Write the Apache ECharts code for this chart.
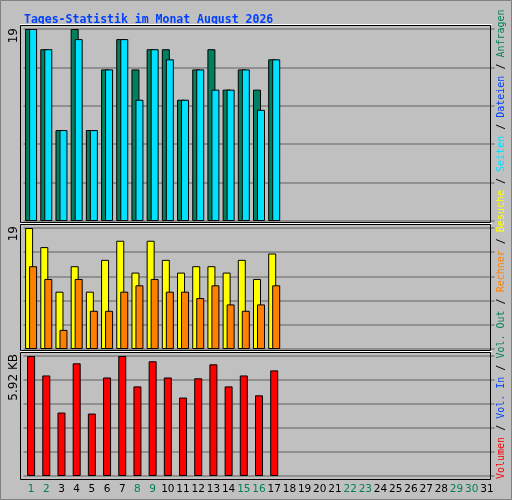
<!DOCTYPE html>
<html><head><meta charset="utf-8">
<script src="https://cdn.jsdelivr.net/npm/echarts@6/dist/echarts.min.js"></script>
<style>html,body{margin:0;padding:0;background:#c0c0c0}#c{width:512px;height:500px}</style>
</head><body><div id="c"></div>
<script>
const days = Array.from({length:31},(_,i)=>String(i+1));
const weekend = [1,2,8,9,15,16,22,23,29,30];
const hits   = [19,17,9,19,9,15,18,15,17,17,12,15,17,13,15,13,16];
const files  = [19,17,9,18,9,15,18,12,17,16,12,15,13,13,15,11,16];
const visits = [19,16,9,13,9,14,17,12,17,14,12,13,13,12,14,11,15];
const sites  = [13,11,3,11,6,6,9,10,11,9,9,8,10,7,6,7,10];
const kbytes = [5.92,4.96,3.13,5.56,3.08,4.86,5.92,4.42,5.66,4.86,3.87,4.82,5.51,4.42,4.96,3.98,5.21];
const maxTop = 19, maxMid = 19, maxKB = 5.92;
const axisLabels = ['19','19','5.92 KB'];

const chart = echarts.init(document.getElementById('c'));
const grids = [{top:29,bottom:279},{top:228,bottom:151},{top:356,bottom:24}];
const panels = [[25,222],[224,350],[352,479]];
const mono = 'DejaVu Sans Mono';
const xAxes = grids.map((g,i)=>({type:'category',gridIndex:i,data:days,
  axisLine:{show:false},axisTick:{show:false},
  axisLabel:{show:i===2,interval:0,margin:8,
    formatter:v=>weekend.includes(+v)?'{w|'+v+'}':'{n|'+v+'}',
    rich:{w:{color:'#00805c',fontSize:10.5,fontFamily:'DejaVu Sans'},n:{color:'#000',fontSize:10.5,fontFamily:'DejaVu Sans'}}}}));
const maxes=[maxTop,maxMid,maxKB];
const yAxes = maxes.map((m,i)=>({type:'value',gridIndex:i,min:0,max:m,interval:m/5,
  axisLabel:{show:false},axisLine:{show:false},axisTick:{show:false},
  splitLine:{lineStyle:{color:'#808080',width:1.5}}}));
const bs={borderColor:'#000',borderWidth:1};
const S=(d,c,xi,extra)=>Object.assign({type:'bar',data:d,xAxisIndex:xi,yAxisIndex:xi,barWidth:8,
  itemStyle:Object.assign({color:c},bs),animation:false,z:3},extra||{});
const frames=[];
panels.forEach(p=>{
  frames.push({type:'rect',z:10,shape:{x:20.5,y:p[0]+0.5,width:470,height:p[1]-p[0]},style:{fill:null,stroke:'#000',lineWidth:1}});
  frames.push({type:'line',z:11,shape:{x1:20,y1:p[0]-0.5,x2:492,y2:p[0]-0.5},style:{stroke:'#fff',lineWidth:1}});
});
chart.setOption({
  animation:false,
  backgroundColor:'#c0c0c0',
  title:{text:'Tages-Statistik im Monat August 2026',left:19,top:9,
    textStyle:{fontFamily:mono,fontSize:11.5,fontWeight:'bold',color:'#0040ff'}},
  grid:grids.map(g=>Object.assign({left:23.5,right:17.5},g)),
  xAxis:xAxes, yAxis:yAxes,
  series:[S(hits,'#008060',0,{barGap:'-50%'}),S(files,'#00e0ff',0),
    S(visits,'#ffff00',1,{barGap:'-50%'}),S(sites,'#ff8000',1),
    S(kbytes,'#ff0000',2,{barWidth:8})],
  graphic:[
    {type:'rect',shape:{x:0.5,y:0.5,width:511,height:499},style:{fill:null,stroke:'#808080',lineWidth:1}},
    ...frames,
    {type:'text',x:14,y:28,rotation:Math.PI/2,style:{text:axisLabels[0],align:'right',verticalAlign:'middle',font:'12px DejaVu Sans',fill:'#000'}},
    {type:'text',x:14,y:226,rotation:Math.PI/2,style:{text:axisLabels[1],align:'right',verticalAlign:'middle',font:'12px DejaVu Sans',fill:'#000'}},
    {type:'text',x:14,y:354,rotation:Math.PI/2,style:{text:axisLabels[2],align:'right',verticalAlign:'middle',font:'12px DejaVu Sans',fill:'#000'}},
    {type:'text',x:501,y:479,rotation:Math.PI/2,style:{
      text:'{r|Volumen}{k| / }{b|Vol. In}{k| / }{g|Vol. Out}{k| / }{o|Rechner}{k| / }{y|Besuche}{k| / }{c|Seiten}{k| / }{b|Dateien}{k| / }{g|Anfragen}',
      align:'left',verticalAlign:'middle',font:'10px DejaVu Sans Mono',
      rich:{r:{fill:'#ff0000',font:'10px DejaVu Sans Mono'},b:{fill:'#0040ff',font:'10px DejaVu Sans Mono'},
        g:{fill:'#00805c',font:'10px DejaVu Sans Mono'},o:{fill:'#ff8000',font:'10px DejaVu Sans Mono'},
        y:{fill:'#ffff00',font:'10px DejaVu Sans Mono'},c:{fill:'#00e0ff',font:'10px DejaVu Sans Mono'},
        k:{fill:'#000',font:'10px DejaVu Sans Mono'}}}}
  ]
});
</script></body></html>
